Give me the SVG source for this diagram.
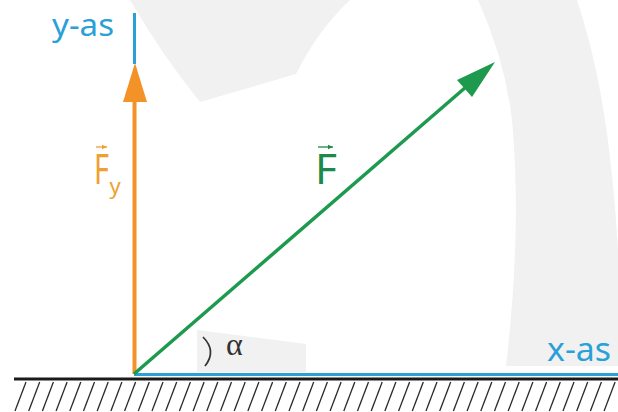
<svg xmlns="http://www.w3.org/2000/svg" width="618" height="412" viewBox="0 0 618 412">
<style>
.bg{fill:#f1f1f1}
.lbl{font-family:"Noto Sans","Open Sans",sans-serif}
.blue{fill:#2aa0d8}
.hatch{stroke:#2a2a2a;stroke-width:1.3}
</style>
<defs>
<marker id="vecO" markerWidth="6" markerHeight="6" refX="5" refY="3" orient="auto" markerUnits="userSpaceOnUse"><path d="M0,0.8 L5,3 L0,5.2Z" fill="#f0a030"/></marker>
<marker id="vecG" markerWidth="6" markerHeight="6" refX="5" refY="3" orient="auto" markerUnits="userSpaceOnUse"><path d="M0,0.8 L5,3 L0,5.2Z" fill="#1e8a4a"/></marker>
</defs>
<rect width="618" height="412" fill="#ffffff"/>
<g id="watermark">
<path class="bg" d="M130,0 Q162,55 200,102 L296,74 Q318,30 350,0 Z"/>
<path class="bg" d="M478,0 Q505,60 512,120 Q522,230 506,366 L618,366 L618,250 Q612,150 598,80 Q590,40 577,0 Z"/>
<path class="bg" d="M197,330 L306,344 L306,372 L197,372 Z"/>
</g>
<g id="ground">
<line x1="14" y1="379" x2="618" y2="379" stroke="#1a1a1a" stroke-width="3"/>
<g id="hatching">
<line class="hatch" x1="26" y1="382" x2="15" y2="411"/><line class="hatch" x1="39.7" y1="382" x2="28.7" y2="411"/><line class="hatch" x1="53.4" y1="382" x2="42.4" y2="411"/><line class="hatch" x1="67.1" y1="382" x2="56.1" y2="411"/><line class="hatch" x1="80.8" y1="382" x2="69.8" y2="411"/><line class="hatch" x1="94.5" y1="382" x2="83.5" y2="411"/><line class="hatch" x1="108.2" y1="382" x2="97.2" y2="411"/><line class="hatch" x1="121.9" y1="382" x2="110.9" y2="411"/><line class="hatch" x1="135.6" y1="382" x2="124.6" y2="411"/><line class="hatch" x1="149.3" y1="382" x2="138.3" y2="411"/><line class="hatch" x1="163" y1="382" x2="152" y2="411"/><line class="hatch" x1="176.7" y1="382" x2="165.7" y2="411"/><line class="hatch" x1="190.4" y1="382" x2="179.4" y2="411"/><line class="hatch" x1="204.1" y1="382" x2="193.1" y2="411"/><line class="hatch" x1="217.8" y1="382" x2="206.8" y2="411"/><line class="hatch" x1="231.5" y1="382" x2="220.5" y2="411"/><line class="hatch" x1="245.2" y1="382" x2="234.2" y2="411"/><line class="hatch" x1="258.9" y1="382" x2="247.9" y2="411"/><line class="hatch" x1="272.6" y1="382" x2="261.6" y2="411"/><line class="hatch" x1="286.3" y1="382" x2="275.3" y2="411"/><line class="hatch" x1="300" y1="382" x2="289" y2="411"/><line class="hatch" x1="313.7" y1="382" x2="302.7" y2="411"/><line class="hatch" x1="327.4" y1="382" x2="316.4" y2="411"/><line class="hatch" x1="341.1" y1="382" x2="330.1" y2="411"/><line class="hatch" x1="354.8" y1="382" x2="343.8" y2="411"/><line class="hatch" x1="368.5" y1="382" x2="357.5" y2="411"/><line class="hatch" x1="382.2" y1="382" x2="371.2" y2="411"/><line class="hatch" x1="395.9" y1="382" x2="384.9" y2="411"/><line class="hatch" x1="409.6" y1="382" x2="398.6" y2="411"/><line class="hatch" x1="423.3" y1="382" x2="412.3" y2="411"/><line class="hatch" x1="437" y1="382" x2="426" y2="411"/><line class="hatch" x1="450.7" y1="382" x2="439.7" y2="411"/><line class="hatch" x1="464.4" y1="382" x2="453.4" y2="411"/><line class="hatch" x1="478.1" y1="382" x2="467.1" y2="411"/><line class="hatch" x1="491.8" y1="382" x2="480.8" y2="411"/><line class="hatch" x1="505.5" y1="382" x2="494.5" y2="411"/><line class="hatch" x1="519.2" y1="382" x2="508.2" y2="411"/><line class="hatch" x1="532.9" y1="382" x2="521.9" y2="411"/><line class="hatch" x1="546.6" y1="382" x2="535.6" y2="411"/><line class="hatch" x1="560.3" y1="382" x2="549.3" y2="411"/><line class="hatch" x1="574" y1="382" x2="563" y2="411"/><line class="hatch" x1="587.7" y1="382" x2="576.7" y2="411"/><line class="hatch" x1="601.4" y1="382" x2="590.4" y2="411"/><line class="hatch" x1="615.1" y1="382" x2="604.1" y2="411"/>
</g>
</g>
<g id="connectors">
<line id="y-axis" x1="134.5" y1="13" x2="134.5" y2="64" stroke="#2aa0d8" stroke-width="3"/>
<line id="x-axis" x1="134" y1="374.5" x2="618" y2="374.5" stroke="#2aa0d8" stroke-width="3"/>
<g id="Fy-vector">
<line x1="134.5" y1="374" x2="134.5" y2="100" stroke="#f39226" stroke-width="4"/>
<polygon points="135,63 123,102 147,102" fill="#f39226"/>
</g>
<g id="F-vector">
<line x1="134" y1="374" x2="466" y2="87" stroke="#1d9a4e" stroke-width="3.5"/>
<polygon points="495,62 457,80 472,97" fill="#1d9a4e"/>
</g>
<path id="angle-arc" d="M203,337 Q217,351 205,366" fill="none" stroke="#333" stroke-width="1.7"/>
</g>
<g id="label-y-as">
<text class="lbl blue" x="52" y="36" font-size="30" textLength="62" lengthAdjust="spacingAndGlyphs">y-as</text>
</g>
<g id="label-x-as">
<text class="lbl blue" x="547" y="361" font-size="33" textLength="64" lengthAdjust="spacingAndGlyphs">x-as</text>
</g>
<g id="label-Fy">
<line x1="96" y1="147" x2="107" y2="147" stroke="#f0a030" stroke-width="1.3" marker-end="url(#vecO)"/>
<text class="lbl" x="94" y="184" font-size="41" fill="#f0a030"><tspan textLength="15" lengthAdjust="spacingAndGlyphs">F</tspan><tspan x="109.5" dy="10" font-size="22">y</tspan></text>
</g>
<g id="label-F">
<line x1="318" y1="147" x2="333" y2="147" stroke="#1e8a4a" stroke-width="1.3" marker-end="url(#vecG)"/>
<text class="lbl" x="315" y="184" font-size="41" fill="#1e8a4a" textLength="22" lengthAdjust="spacingAndGlyphs">F</text>
</g>
<g id="label-alpha">
<text x="226" y="355" font-family="'Liberation Serif',serif" font-size="32" fill="#333">α</text>
</g>
</svg>
